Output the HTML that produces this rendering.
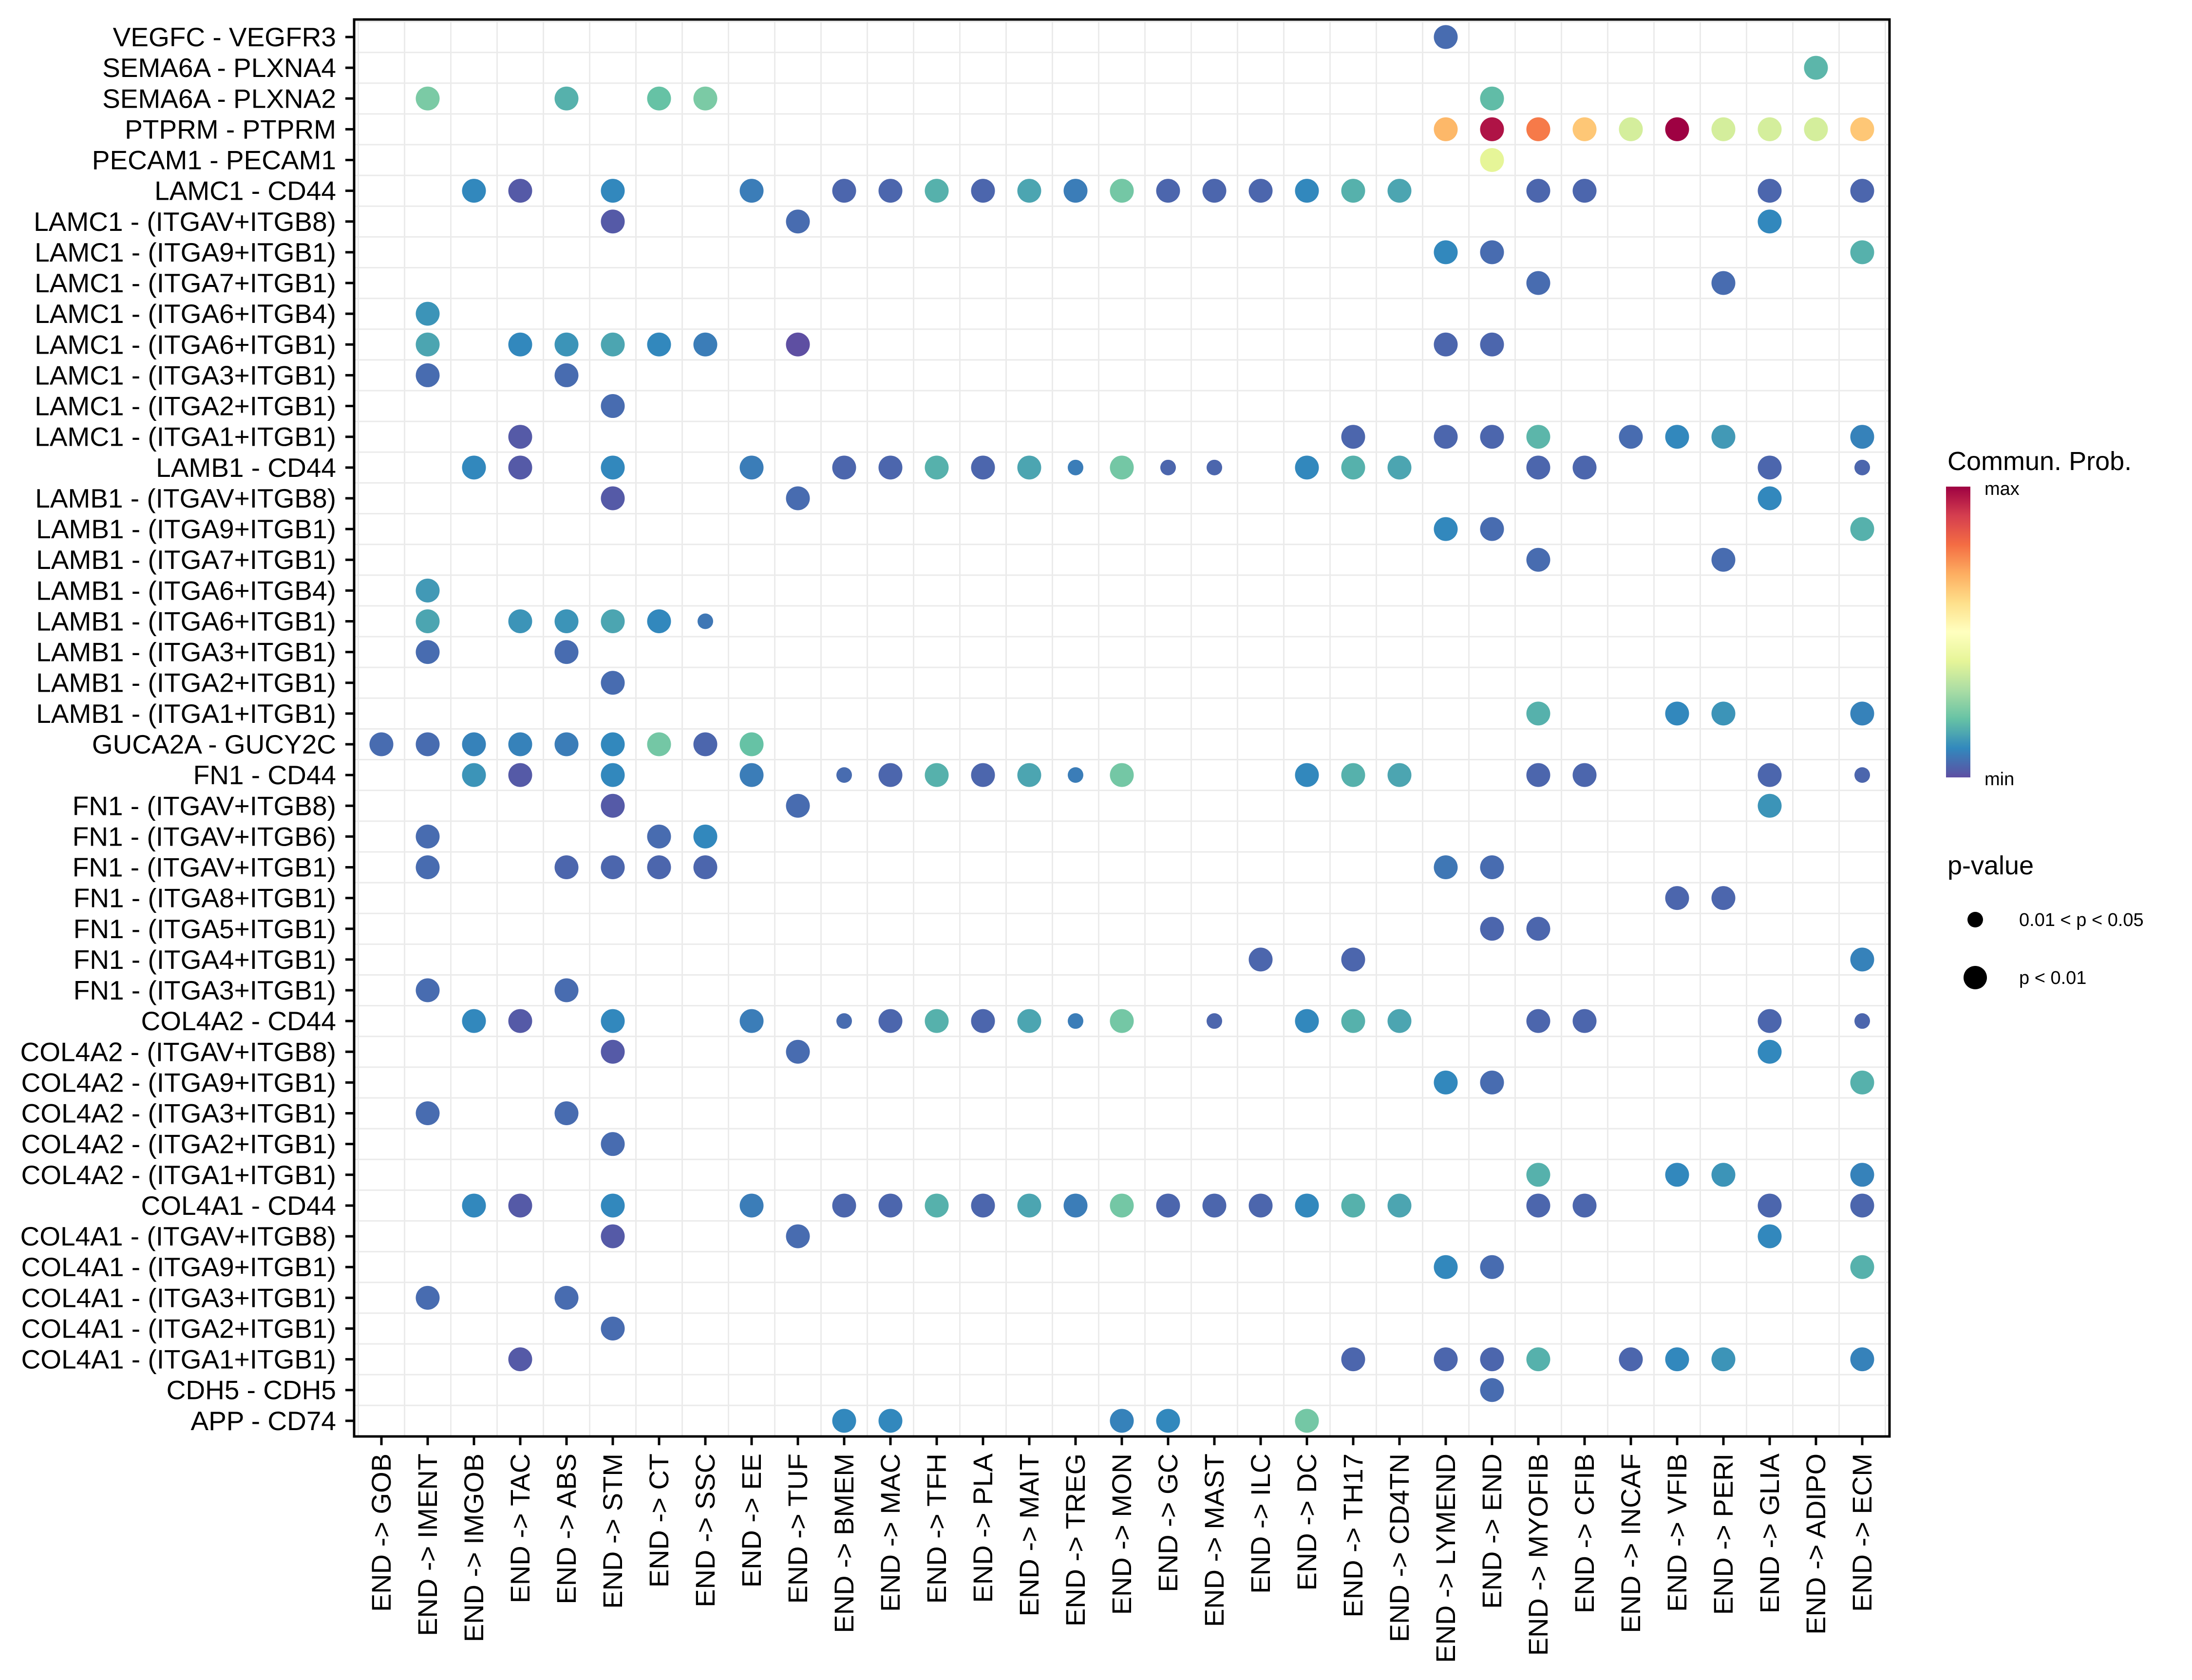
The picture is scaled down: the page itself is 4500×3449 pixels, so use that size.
<!DOCTYPE html>
<html><head><meta charset="utf-8"><style>
html,body{margin:0;padding:0;background:#fff;}
svg{display:block;font-family:"Liberation Sans",sans-serif;}
</style></head><body>
<svg id="chart" width="4500" height="3449" viewBox="0 0 4500 3449" xmlns="http://www.w3.org/2000/svg">
<defs><linearGradient id="spec" x1="0" y1="1" x2="0" y2="0">
<stop offset="0" stop-color="#5E4FA2"/><stop offset="0.1" stop-color="#3288BD"/><stop offset="0.2" stop-color="#66C2A5"/><stop offset="0.3" stop-color="#ABDDA4"/><stop offset="0.4" stop-color="#E6F598"/><stop offset="0.5" stop-color="#FFFFBF"/><stop offset="0.6" stop-color="#FEE08B"/><stop offset="0.7" stop-color="#FDAE61"/><stop offset="0.8" stop-color="#F46D43"/><stop offset="0.9" stop-color="#D53E4F"/><stop offset="1" stop-color="#9E0142"/>
</linearGradient></defs>
<g id="grid"></g>
<g id="dots"></g>
<rect x="727" y="40" width="3152" height="2909" fill="none" stroke="#000" stroke-width="5"/>
<g id="yaxis"></g>
<g id="xaxis"></g>
<g>
<text x="3998" y="965" font-size="54">Commun. Prob.</text>
<rect x="3995" y="999" width="50" height="597" fill="url(#spec)"/>
<text x="4074" y="1016" font-size="38">max</text>
<text x="4074" y="1612" font-size="38">min</text>
</g>
<g>
<text x="3998" y="1795" font-size="54">p-value</text>
<circle cx="4055" cy="1888" r="16" fill="#000"/>
<text x="4145" y="1901" font-size="38">0.01 &lt; p &lt; 0.05</text>
<circle cx="4055" cy="2007" r="24" fill="#000"/>
<text x="4145" y="2020" font-size="38">p &lt; 0.01</text>
</g>
</svg>
<script>
const rowLabels=["VEGFC - VEGFR3","SEMA6A - PLXNA4","SEMA6A - PLXNA2","PTPRM - PTPRM","PECAM1 - PECAM1","LAMC1 - CD44","LAMC1 - (ITGAV+ITGB8)","LAMC1 - (ITGA9+ITGB1)","LAMC1 - (ITGA7+ITGB1)","LAMC1 - (ITGA6+ITGB4)","LAMC1 - (ITGA6+ITGB1)","LAMC1 - (ITGA3+ITGB1)","LAMC1 - (ITGA2+ITGB1)","LAMC1 - (ITGA1+ITGB1)","LAMB1 - CD44","LAMB1 - (ITGAV+ITGB8)","LAMB1 - (ITGA9+ITGB1)","LAMB1 - (ITGA7+ITGB1)","LAMB1 - (ITGA6+ITGB4)","LAMB1 - (ITGA6+ITGB1)","LAMB1 - (ITGA3+ITGB1)","LAMB1 - (ITGA2+ITGB1)","LAMB1 - (ITGA1+ITGB1)","GUCA2A - GUCY2C","FN1 - CD44","FN1 - (ITGAV+ITGB8)","FN1 - (ITGAV+ITGB6)","FN1 - (ITGAV+ITGB1)","FN1 - (ITGA8+ITGB1)","FN1 - (ITGA5+ITGB1)","FN1 - (ITGA4+ITGB1)","FN1 - (ITGA3+ITGB1)","COL4A2 - CD44","COL4A2 - (ITGAV+ITGB8)","COL4A2 - (ITGA9+ITGB1)","COL4A2 - (ITGA3+ITGB1)","COL4A2 - (ITGA2+ITGB1)","COL4A2 - (ITGA1+ITGB1)","COL4A1 - CD44","COL4A1 - (ITGAV+ITGB8)","COL4A1 - (ITGA9+ITGB1)","COL4A1 - (ITGA3+ITGB1)","COL4A1 - (ITGA2+ITGB1)","COL4A1 - (ITGA1+ITGB1)","CDH5 - CDH5","APP - CD74"];
const colLabels=["GOB","IMENT","IMGOB","TAC","ABS","STM","CT","SSC","EE","TUF","BMEM","MAC","TFH","PLA","MAIT","TREG","MON","GC","MAST","ILC","DC","TH17","CD4TN","LYMEND","END","MYOFIB","CFIB","INCAF","VFIB","PERI","GLIA","ADIPO","ECM"];
// dots: [row, col, prob(0-1), size: 1 = 0.01<p<0.05, 2 = p<0.01]
const dots=[
[0,23,0.05,2],
[1,31,0.18,2],
[2,1,0.23,2],[2,4,0.17,2],[2,6,0.2,2],[2,7,0.23,2],[2,24,0.19,2],
[3,23,0.68,2],[3,24,0.97,2],[3,25,0.78,2],[3,26,0.65,2],[3,27,0.37,2],[3,28,1.0,2],[3,29,0.37,2],[3,30,0.37,2],[3,31,0.37,2],[3,32,0.65,2],
[4,24,0.4,2],
[5,2,0.1,2],[5,3,0.02,2],[5,5,0.1,2],[5,8,0.08,2],[5,10,0.04,2],[5,11,0.04,2],[5,12,0.17,2],[5,13,0.04,2],[5,14,0.15,2],[5,15,0.08,2],[5,16,0.22,2],[5,17,0.04,2],[5,18,0.04,2],[5,19,0.04,2],[5,20,0.1,2],[5,21,0.17,2],[5,22,0.15,2],[5,25,0.04,2],[5,26,0.04,2],[5,30,0.04,2],[5,32,0.04,2],
[6,5,0.02,2],[6,9,0.05,2],[6,30,0.1,2],
[7,23,0.1,2],[7,24,0.05,2],[7,32,0.17,2],
[8,25,0.05,2],[8,29,0.05,2],
[9,1,0.12,2],
[10,1,0.15,2],[10,3,0.1,2],[10,4,0.12,2],[10,5,0.15,2],[10,6,0.1,2],[10,7,0.08,2],[10,9,0.0,2],[10,23,0.04,2],[10,24,0.04,2],
[11,1,0.05,2],[11,4,0.05,2],
[12,5,0.05,2],
[13,3,0.02,2],[13,21,0.04,2],[13,23,0.04,2],[13,24,0.04,2],[13,25,0.18,2],[13,27,0.05,2],[13,28,0.1,2],[13,29,0.13,2],[13,32,0.09,2],
[14,2,0.1,2],[14,3,0.02,2],[14,5,0.1,2],[14,8,0.08,2],[14,10,0.04,2],[14,11,0.04,2],[14,12,0.17,2],[14,13,0.04,2],[14,14,0.15,2],[14,15,0.08,1],[14,16,0.22,2],[14,17,0.04,1],[14,18,0.04,1],[14,20,0.1,2],[14,21,0.17,2],[14,22,0.15,2],[14,25,0.04,2],[14,26,0.04,2],[14,30,0.04,2],[14,32,0.04,1],
[15,5,0.02,2],[15,9,0.05,2],[15,30,0.1,2],
[16,23,0.1,2],[16,24,0.05,2],[16,32,0.17,2],
[17,25,0.05,2],[17,29,0.05,2],
[18,1,0.13,2],
[19,1,0.15,2],[19,3,0.12,2],[19,4,0.12,2],[19,5,0.15,2],[19,6,0.1,2],[19,7,0.07,1],
[20,1,0.05,2],[20,4,0.05,2],
[21,5,0.05,2],
[22,25,0.17,2],[22,28,0.1,2],[22,29,0.12,2],[22,32,0.09,2],
[23,0,0.05,2],[23,1,0.05,2],[23,2,0.09,2],[23,3,0.09,2],[23,4,0.08,2],[23,5,0.1,2],[23,6,0.22,2],[23,7,0.04,2],[23,8,0.2,2],
[24,2,0.12,2],[24,3,0.02,2],[24,5,0.1,2],[24,8,0.08,2],[24,10,0.05,1],[24,11,0.04,2],[24,12,0.17,2],[24,13,0.04,2],[24,14,0.15,2],[24,15,0.08,1],[24,16,0.22,2],[24,20,0.1,2],[24,21,0.17,2],[24,22,0.15,2],[24,25,0.04,2],[24,26,0.04,2],[24,30,0.04,2],[24,32,0.04,1],
[25,5,0.02,2],[25,9,0.05,2],[25,30,0.12,2],
[26,1,0.05,2],[26,6,0.05,2],[26,7,0.1,2],
[27,1,0.05,2],[27,4,0.04,2],[27,5,0.04,2],[27,6,0.04,2],[27,7,0.04,2],[27,23,0.07,2],[27,24,0.05,2],
[28,28,0.04,2],[28,29,0.04,2],
[29,24,0.04,2],[29,25,0.04,2],
[30,19,0.04,2],[30,21,0.04,2],[30,32,0.09,2],
[31,1,0.05,2],[31,4,0.05,2],
[32,2,0.1,2],[32,3,0.02,2],[32,5,0.1,2],[32,8,0.08,2],[32,10,0.05,1],[32,11,0.04,2],[32,12,0.17,2],[32,13,0.04,2],[32,14,0.15,2],[32,15,0.08,1],[32,16,0.22,2],[32,18,0.04,1],[32,20,0.1,2],[32,21,0.17,2],[32,22,0.15,2],[32,25,0.04,2],[32,26,0.04,2],[32,30,0.04,2],[32,32,0.04,1],
[33,5,0.02,2],[33,9,0.05,2],[33,30,0.1,2],
[34,23,0.1,2],[34,24,0.05,2],[34,32,0.17,2],
[35,1,0.05,2],[35,4,0.05,2],
[36,5,0.05,2],
[37,25,0.17,2],[37,28,0.1,2],[37,29,0.12,2],[37,32,0.09,2],
[38,2,0.1,2],[38,3,0.02,2],[38,5,0.1,2],[38,8,0.08,2],[38,10,0.04,2],[38,11,0.04,2],[38,12,0.17,2],[38,13,0.04,2],[38,14,0.15,2],[38,15,0.08,2],[38,16,0.22,2],[38,17,0.04,2],[38,18,0.04,2],[38,19,0.04,2],[38,20,0.1,2],[38,21,0.17,2],[38,22,0.15,2],[38,25,0.04,2],[38,26,0.04,2],[38,30,0.04,2],[38,32,0.04,2],
[39,5,0.02,2],[39,9,0.05,2],[39,30,0.1,2],
[40,23,0.1,2],[40,24,0.05,2],[40,32,0.17,2],
[41,1,0.05,2],[41,4,0.05,2],
[42,5,0.05,2],
[43,3,0.02,2],[43,21,0.04,2],[43,23,0.04,2],[43,24,0.04,2],[43,25,0.17,2],[43,27,0.04,2],[43,28,0.1,2],[43,29,0.12,2],[43,32,0.09,2],
[44,24,0.05,2],
[45,10,0.1,2],[45,11,0.1,2],[45,16,0.09,2],[45,17,0.1,2],[45,20,0.22,2]
];
const NS="http://www.w3.org/2000/svg";
const X0=783,DX=95.0,Y0=76,DY=63.13;
const PL=727,PR=3879,PT=40,PB=2949;
function xScale(c){return X0+c*DX;}
function yScale(r){return Y0+r*DY;}
function sizeScale(s){return s===2?24.5:16;}
const stops=["#5E4FA2","#3288BD","#66C2A5","#ABDDA4","#E6F598","#FFFFBF","#FEE08B","#FDAE61","#F46D43","#D53E4F","#9E0142"];
function hex(h){return [1,3,5].map(i=>parseInt(h.substr(i,2),16));}
function colorScale(v){v=Math.max(0,Math.min(1,v));const t=v*10,i=Math.min(9,Math.floor(t)),f=t-i;const a=hex(stops[i]),b=hex(stops[i+1]);return "rgb("+a.map((x,k)=>Math.round(x+(b[k]-x)*f)).join(",")+")";}
function mk(tag,attrs,parent){const e=document.createElementNS(NS,tag);for(const k in attrs)e.setAttribute(k,attrs[k]);parent.appendChild(e);return e;}
const grid=document.getElementById('grid');
for(let c=0;c<=colLabels.length;c++){const x=xScale(c-0.5);if(x<=PL||x>=PR)continue;
const l=mk('line',{x1:x,x2:x,y1:PT,y2:PB,stroke:'#ebebeb','stroke-width':3},grid);

}
for(let r=0;r<=rowLabels.length;r++){const y=yScale(r-0.5);if(y<=PT||y>=PB)continue;
const l=mk('line',{x1:PL,x2:PR,y1:y,y2:y,stroke:'#ebebeb','stroke-width':3},grid);

}
const yax=document.getElementById('yaxis');
rowLabels.forEach((lab,r)=>{const y=yScale(r);
const t=mk('line',{x1:709,x2:727,y1:y,y2:y,stroke:'#000','stroke-width':5},yax);


const tx=mk('text',{x:690,y:y+19,'text-anchor':'end','font-size':55},yax);tx.textContent=lab;

});
const xax=document.getElementById('xaxis');
colLabels.forEach((lab,c)=>{const x=xScale(c);
const t=mk('line',{x1:x,x2:x,y1:PB,y2:PB+18,stroke:'#000','stroke-width':5},xax);


const tx=mk('text',{x:0,y:0,'text-anchor':'end','font-size':56,transform:'translate('+(x+19)+','+(PB+35)+') rotate(-90)'},xax);tx.textContent='END -> '+lab;

});
const dg=document.getElementById('dots');
dots.forEach(d=>{const c=mk('circle',{cx:xScale(d[1]),cy:yScale(d[0]),r:sizeScale(d[3]),fill:colorScale(d[2])},dg);

});
</script>
</body></html>
